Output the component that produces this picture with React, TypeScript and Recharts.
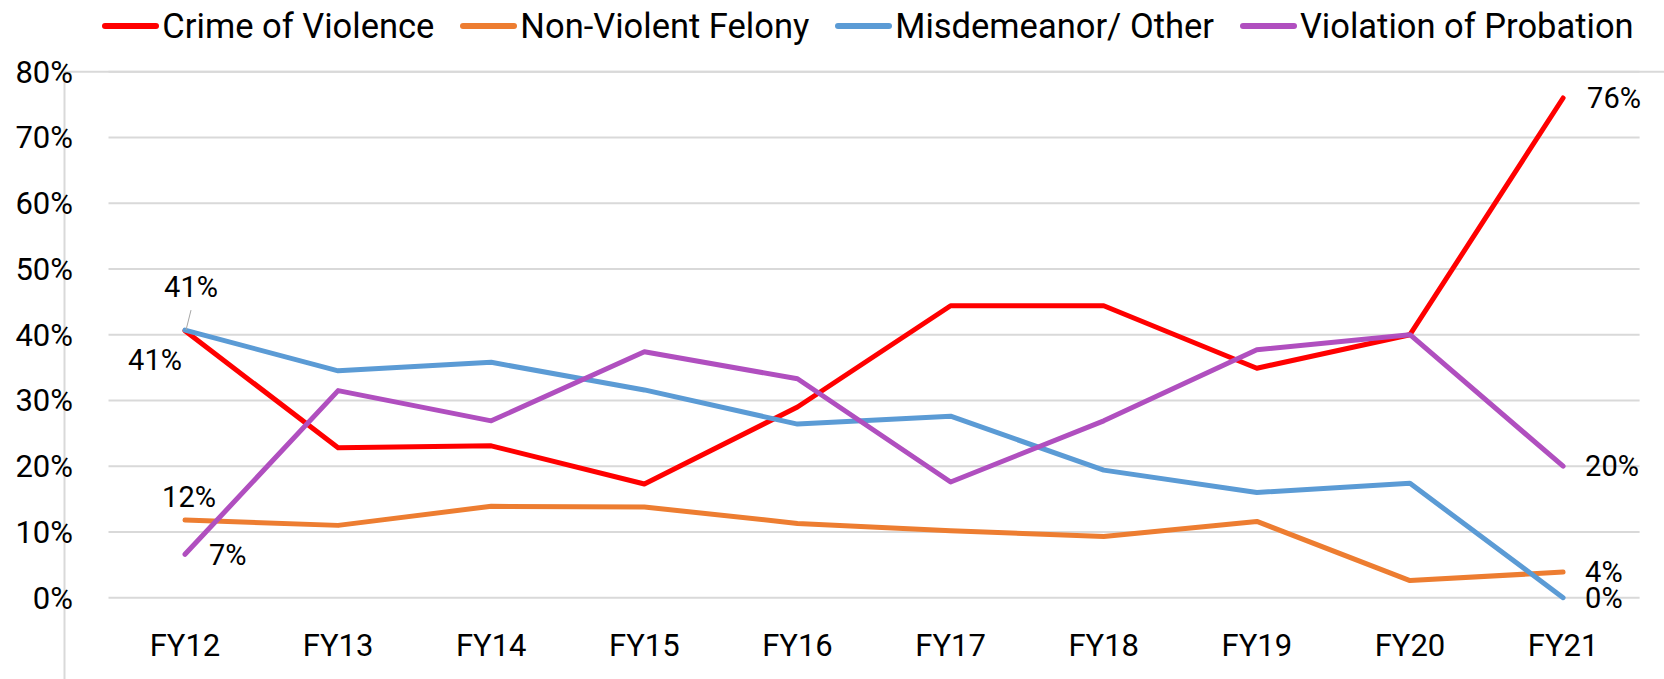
import { LineChart, Line, XAxis, YAxis, CartesianGrid, Legend, LabelList } from "recharts";

const categories = ["FY12", "FY13", "FY14", "FY15", "FY16", "FY17", "FY18", "FY19", "FY20", "FY21"];
const seriesNames = ["Crime of Violence", "Non-Violent Felony", "Misdemeanor/ Other", "Violation of Probation"];
const crimeOfViolence = [0.406, 0.228, 0.231, 0.173, 0.29, 0.444, 0.444, 0.349, 0.4, 0.76];
const nonViolentFelony = [0.118, 0.11, 0.139, 0.138, 0.113, 0.102, 0.093, 0.116, 0.026, 0.039];
const misdemeanorOther = [0.407, 0.345, 0.358, 0.316, 0.264, 0.276, 0.194, 0.16, 0.174, 0];
const violationOfProbation = [0.066, 0.315, 0.269, 0.374, 0.333, 0.176, 0.269, 0.377, 0.4, 0.2];
const yTicks = [0, 0.1, 0.2, 0.3, 0.4, 0.5, 0.6, 0.7, 0.8];

const data = categories.map((fy, i) => ({
  fy,
  crime: crimeOfViolence[i],
  felony: nonViolentFelony[i],
  misd: misdemeanorOther[i],
  vop: violationOfProbation[i],
}));

const FONT = "Roboto, 'Noto Sans', sans-serif";
const GRID = "#D9D9D9";
const pct = (v: number) => `${Math.round(v * 100)}%`;

type Spot = { dx: number; dy: number; anchor: "start" | "middle" | "end" };

// only the first and last point of each series carry a label
function endLabels(first: Spot, last: Spot, leader = false) {
  return (props: any) => {
    const { x, y, value, index } = props;
    if (index !== 0 && index !== categories.length - 1) return null;
    const s = index === 0 ? first : last;
    return (
      <g>
        {leader && index === 0 && (
          <line x1={x + 1} y1={y} x2={x + 6} y2={y - 20} stroke="#A6A6A6" strokeWidth={1} />
        )}
        <text
          x={x + s.dx}
          y={y + s.dy}
          dy="0.355em"
          textAnchor={s.anchor}
          fontSize={29}
          fontFamily={FONT}
          fill="#000"
        >
          {pct(value)}
        </text>
      </g>
    );
  };
}

const renderLegend = (props: any) => {
  const items = [...(props.payload || [])].sort(
    (a: any, b: any) => seriesNames.indexOf(a.value) - seriesNames.indexOf(b.value)
  );
  return (
    <div
      style={{
        display: "flex",
        justifyContent: "center",
        alignItems: "center",
        gap: 26,
        paddingLeft: 72,
        height: 52,
        fontFamily: FONT,
        fontSize: 34.5,
        color: "#000",
        whiteSpace: "nowrap",
      }}
    >
      {items.map((e: any) => (
        <div key={e.value} style={{ display: "flex", alignItems: "center" }}>
          <svg width={57} height={10}>
            <line x1={3} y1={5} x2={54} y2={5} stroke={e.color} strokeWidth={6} strokeLinecap="round" />
          </svg>
          <span style={{ marginLeft: 3 }}>{e.value}</span>
        </div>
      ))}
    </div>
  );
};

const tickStyle = { fontSize: 31, fill: "#000", fontFamily: FONT };

export default function App() {
  return (
    <div style={{ position: "absolute", left: 0, top: 0, width: 1664, height: 679, background: "#fff" }}>
      <svg width={1664} height={679} style={{ position: "absolute", left: 0, top: 0 }}>
        <line x1={64.5} y1={71.7} x2={64.5} y2={679} stroke={GRID} strokeWidth={2} />
        <line x1={64.5} y1={71.7} x2={1664} y2={71.7} stroke={GRID} strokeWidth={2} />
      </svg>
      <div style={{ position: "absolute", left: 0, top: 0 }}>
        <LineChart width={1664} height={679} data={data} margin={{ top: 71.7, right: 24.4, bottom: 0, left: 0 }}>
          <CartesianGrid vertical={false} stroke={GRID} strokeWidth={2} />
          <XAxis
            dataKey="fy"
            axisLine={false}
            tickLine={false}
            tickSize={0}
            tickMargin={36}
            height={81.3}
            interval={0}
            padding={{ left: 76.5, right: 76.5 }}
            tick={tickStyle}
          />
          <YAxis
            domain={[0, 0.8]}
            ticks={yTicks}
            tickFormatter={pct}
            axisLine={false}
            tickLine={false}
            tickSize={0}
            tickMargin={35.5}
            width={108.5}
            tick={tickStyle}
          />
          <Legend
            layout="horizontal"
            verticalAlign="middle"
            align="center"
            content={renderLegend}
            wrapperStyle={{ top: 0, left: 0, width: 1664, height: 52 }}
          />
          <Line
            name={seriesNames[0]}
            dataKey="crime"
            stroke="#FF0000"
            strokeWidth={5}
            strokeLinejoin="round"
            strokeLinecap="round"
            dot={false}
            isAnimationActive={false}
          >
            <LabelList
              dataKey="crime"
              content={endLabels({ dx: -30, dy: 29, anchor: "middle" }, { dx: 24, dy: 0, anchor: "start" })}
            />
          </Line>
          <Line
            name={seriesNames[1]}
            dataKey="felony"
            stroke="#ED7D31"
            strokeWidth={5}
            strokeLinejoin="round"
            strokeLinecap="round"
            dot={false}
            isAnimationActive={false}
          >
            <LabelList
              dataKey="felony"
              content={endLabels({ dx: 4, dy: -23, anchor: "middle" }, { dx: 22, dy: 0, anchor: "start" })}
            />
          </Line>
          <Line
            name={seriesNames[2]}
            dataKey="misd"
            stroke="#5B9BD5"
            strokeWidth={5}
            strokeLinejoin="round"
            strokeLinecap="round"
            dot={false}
            isAnimationActive={false}
          >
            <LabelList
              dataKey="misd"
              content={endLabels({ dx: 6, dy: -43, anchor: "middle" }, { dx: 22, dy: 0, anchor: "start" }, true)}
            />
          </Line>
          <Line
            name={seriesNames[3]}
            dataKey="vop"
            stroke="#B04FBF"
            strokeWidth={5}
            strokeLinejoin="round"
            strokeLinecap="round"
            dot={false}
            isAnimationActive={false}
          >
            <LabelList
              dataKey="vop"
              content={endLabels({ dx: 24, dy: 0, anchor: "start" }, { dx: 22, dy: 0, anchor: "start" })}
            />
          </Line>
        </LineChart>
      </div>
    </div>
  );
}
